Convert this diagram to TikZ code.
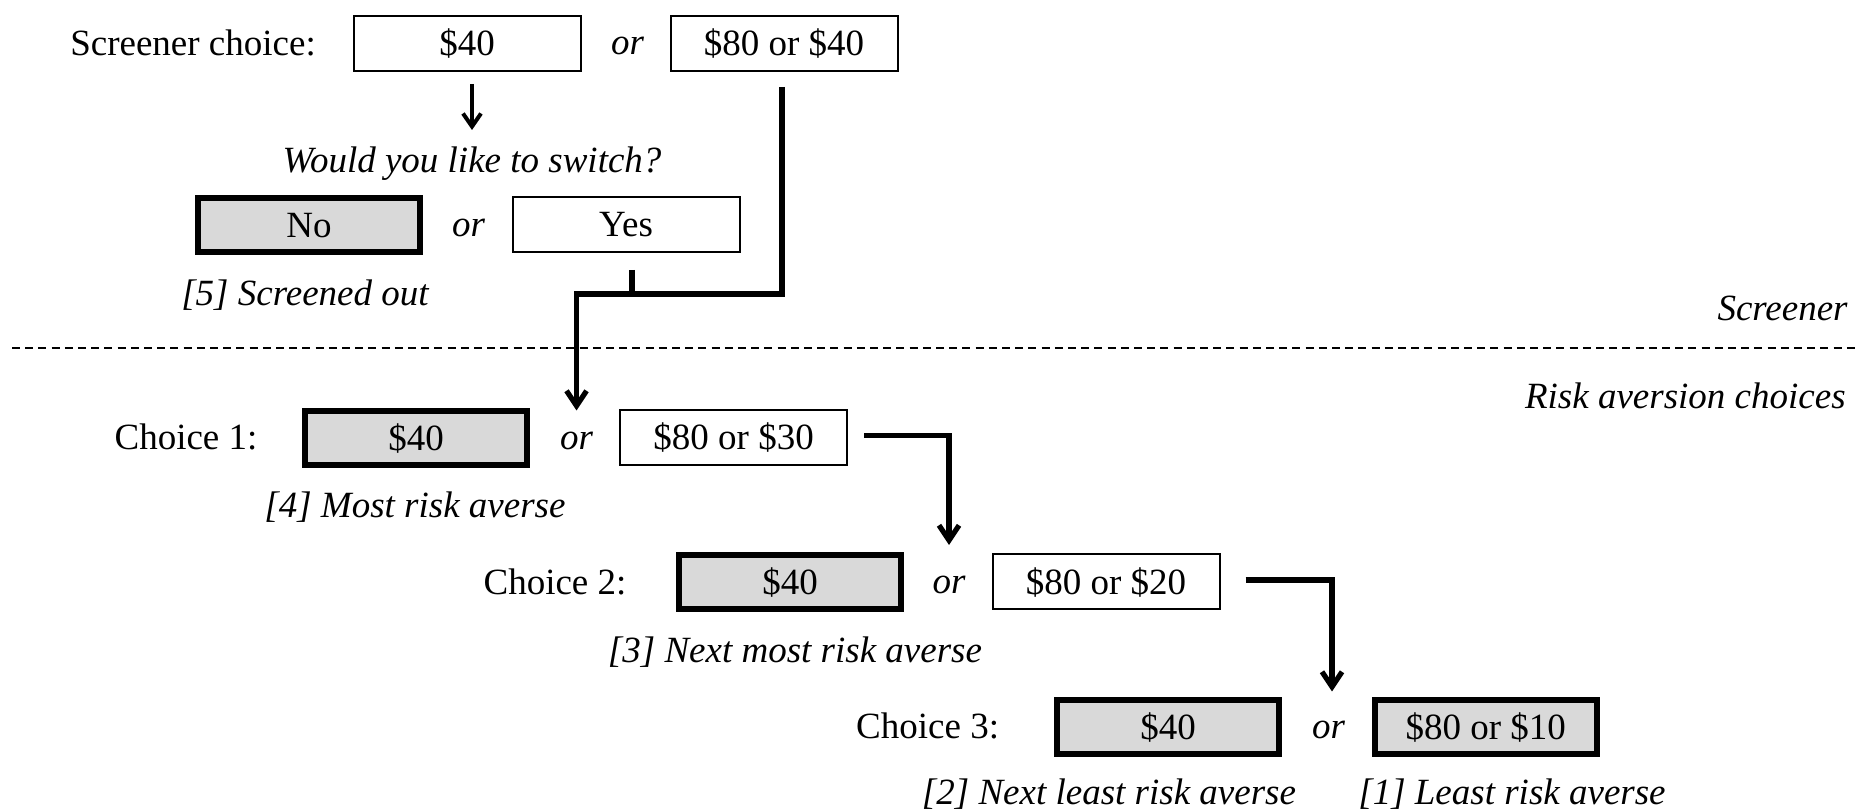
\documentclass[tikz,border=0pt]{standalone}
\usepackage{fontspec}
\setmainfont{Liberation Serif}
\usetikzlibrary{arrows.meta,calc}
\definecolor{boxgray}{HTML}{D9D9D9}
\begin{document}
\begin{tikzpicture}[x=0.5pt,y=-0.5pt,
  txt/.style={font=\fontsize{18.5pt}{22pt}\selectfont, inner sep=0pt},
  itx/.style={inner sep=0pt, font=\fontsize{18.5pt}{22pt}\selectfont\itshape},
  optbox/.style={txt, draw=black, line width=1pt, fill=white, minimum width=113.5pt, minimum height=27.5pt, text height=12.5pt, text depth=0pt},
  pickbox/.style={optbox, line width=3pt, fill=boxgray, minimum width=111pt, minimum height=27pt},
  conn/.style={line width=2.6pt, line join=miter},
  arr/.style={conn, -{Straight Barb[length=7.5pt,width=10pt]}},
  arrsmall/.style={line width=2pt, -{Straight Barb[length=6.5pt,width=9pt]}},
  dashline/.style={line width=0.75pt, dash pattern=on 4pt off 2.6pt},
]
\useasboundingbox (0,0) rectangle (1860,812);

% Screener
\node[txt, anchor=base] (lsc) at (193,56) {Screener choice:};
\node[optbox] (s40) at (467,43.5) {\$40};
\node[itx, anchor=base] (or0) at (627.5,55) {or};
\node[optbox] (s8040) at (784,43.5) {\$80 or \$40};
\node[itx, anchor=base] (q) at (472,173) {Would you like to switch?};
\node[pickbox] (no) at (309,225) {No};
\node[itx, anchor=base] (orq) at (468.5,237) {or};
\node[optbox] (yes) at (626,224.5) {Yes};
\node[itx, anchor=base] (l5) at (305,306) {[5] Screened out};
\node[itx, anchor=base east] (lscr) at (1848,321) {Screener};
\node[itx, anchor=base east] (lrisk) at (1846,409) {Risk aversion choices};

% Choice 1
\node[txt, anchor=base] (ch1) at (186,450) {Choice 1:};
\node[pickbox] (c1a) at (416,438) {\$40};
\node[itx, anchor=base] (or1) at (576.5,449.5) {or};
\node[optbox] (c1b) at (733.6,437.5) {\$80 or \$30};
\node[itx, anchor=base] (l4) at (415,518) {[4] Most risk averse};

% Choice 2
\node[txt, anchor=base] (ch2) at (555,594.5) {Choice 2:};
\node[pickbox] (c2a) at (790,582.5) {\$40};
\node[itx, anchor=base] (or2) at (949,594) {or};
\node[optbox] (c2b) at (1106,582) {\$80 or \$20};
\node[itx, anchor=base] (l3) at (795,662.5) {[3] Next most risk averse};

% Choice 3
\node[txt, anchor=base] (ch3) at (927.6,739) {Choice 3:};
\node[pickbox] (c3a) at (1168,727) {\$40};
\node[itx, anchor=base] (or3) at (1328.5,738.5) {or};
\node[pickbox] (c3b) at (1485.7,727) {\$80 or \$10};
\node[itx, anchor=base] (l2) at (1109,805) {[2] Next least risk averse};
\node[itx, anchor=base] (l1) at (1512,805) {[1] Least risk averse};

% separator
\draw[dashline] (12,348) -- (1860,348);

% connectors
\draw[arrsmall] ($(s40.south -| q.base)+(0,12)$) -- ($(q.base)+(0,-43)$);
\coordinate (j) at ($(or1.base |- yes.south)+(0,41)$);
\draw[conn] ($(yes.south)+(6,17)$) -- ($(yes.south |- j)+(6,0)$);
\draw[arr] ($(s8040.south)+(-2,15)$) |- (j) -- ($(or1.base)+(0,-39)$);
\draw[arr] ($(c1b.east)+(16,-2)$) -| ($(or2.base)+(0,-49)$);
\draw[arr] ($(c2b.east)+(25,-2)$) -| ($(or3.base)+(3.5,-47)$);
\end{tikzpicture}
\end{document}
